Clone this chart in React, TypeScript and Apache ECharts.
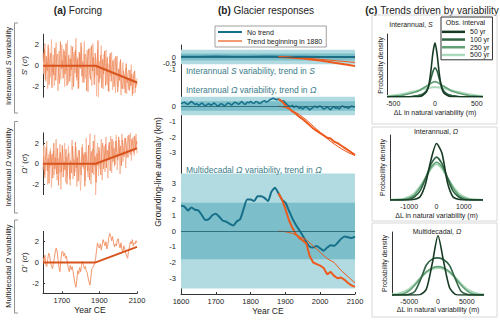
import React, { useEffect, useRef } from 'react';
import * as echarts from 'echarts';

const FONT = '"Liberation Sans", Arial, Helvetica, sans-serif';

// ---------- shared year grids ----------
const years5 = Array.from({ length: 101 }, (_, i) => 1600 + 5 * i);
const years5Offset = years5.map((y) => Math.min(y + 2.5, 2100));
const years10 = Array.from({ length: 51 }, (_, i) => 1600 + 10 * i);
const years50 = Array.from({ length: 11 }, (_, i) => 1600 + 50 * i);
const trendYears10 = Array.from({ length: 23 }, (_, i) => 1880 + 10 * i);
const trendYears20 = Array.from({ length: 12 }, (_, i) => 1880 + 20 * i);
const forcingTrendYears = [1600, 1880, 2100];
const smallTrendYears = [1880, 1900, 1950, 2000, 2050, 2100];

// ---------- (a) forcing ----------
const forcingSLight = [
  1.2, -0.8, 2.1, -1.5, 0.4, -2.2, 1.7, 0.3, -1.1, 2.5,
  -0.6, 1.0, -1.9, 0.7, 2.2, -0.9, -2.4, 1.4, 0.1, -1.3,
  2.0, -0.2, 1.6, -2.0, 0.9, -0.5, 2.4, -1.7, 0.6, -1.0,
  1.9, -2.3, 0.2, 1.3, -0.7, 2.6, -1.4, 0.8, -2.1, 1.1,
  -0.3, 1.8, -1.6, 0.5, 2.3, -1.2, -0.1, 1.5, -2.5, 0.9,
  1.7, -0.8, -1.9, 2.1, 0.3, -1.1,
  0.8, -2.9, 1.6, -3.0, 0.4, -1.2, 1.9, -0.9, -2.2, 1.1,
  -0.4, 1.5, -1.8, 0.2, -2.5, 0.9, -1.0, 1.3, -2.3, -0.1,
  0.7, -2.6, -0.6, 0.9, -2.0, -1.1, 0.4, -2.8, -0.9, 0.3,
  -2.2, -1.5, -0.2, -2.7, -1.0, -0.4, -2.4, -1.7, 0.1, -2.9,
  -1.3, -0.6, -2.6, -1.9, -1.2,
];
const forcingSDark = [
  0.4, 1.6, -1.3, 0.9, -0.5, 2.0, -1.8, 0.6, 1.2, -2.1,
  0.2, -0.9, 1.7, -1.4, 0.8, 1.1, -0.6, -1.7, 2.3, -0.3,
  0.5, -1.2, 1.4, -0.8, 2.1, -1.9, 0.0, 1.0, -1.5, 0.7,
  -0.4, 1.8, -2.0, 0.3, 1.5, -1.1, 0.6, -2.2, 1.3, -0.2,
  2.2, -1.0, 0.4, -1.6, 1.1, 0.9, -2.4, 0.5, 1.6, -0.7,
  -1.3, 1.9, -0.5, 0.8, -1.8, 1.2,
  0.2, -0.9, 2.4, -1.6, -0.3, 1.0, -2.1, 0.6, -0.8, 1.4,
  -1.9, -0.1, 0.8, -2.4, -0.6, 1.2, -1.5, -0.2, 0.5, -2.0,
  -1.1, 0.9, -0.7, -2.5, -0.3, -1.4, 0.6, -1.8, -2.2, -0.5,
  -1.0, -2.6, 0.2, -1.6, -1.2, -2.3, -0.4, -1.9, -0.8, -2.7,
  -1.1, -0.5, -2.1, -1.5, -1.8,
];
const forcingOmegaLight = [
  -0.6, 1.8, -1.4, 0.3, 2.2, -2.0, 0.9, -0.4, 1.5, -2.3,
  0.7, 1.2, -1.1, -0.2, 2.4, -1.6, 0.5, -0.9, 1.9, -2.5,
  0.1, 1.4, -0.7, 2.0, -1.8, 0.6, -1.2, 1.7, -0.3, -2.1,
  1.0, 2.3, -1.5, 0.4, -0.8, 1.6, -2.2, 0.8, 1.3, -1.0,
  -2.6, 0.2, 1.9, -0.5, 1.1, -1.7, 2.5, -0.4, -1.3, 0.7,
  2.9, -2.0, 0.3, 1.4, -1.1, 2.8,
  -3.1, 0.6, 2.0, -1.2, 1.3, -0.5, 2.4, -1.6, 0.9, 1.7,
  -0.8, 2.6, 0.1, -1.4, 1.8, 0.4, 2.7, -0.9, 1.1, 2.2,
  -0.3, 1.5, 2.8, -0.6, 0.9, 2.3, -1.0, 1.6, 2.9, 0.2,
  1.2, 2.5, -0.4, 1.9, 2.7, 0.6, 1.4, 3.0, 0.3, 2.1,
  2.6, 0.8, 1.7, 2.9, 1.0,
];
const forcingOmegaDark = [
  0.8, -1.1, 0.3, 1.6, -0.7, 0.5, -1.9, 1.2, -0.2, 0.9,
  -1.4, 2.0, -0.5, 0.6, -1.0, 1.5, -2.1, 0.4, 1.1, -0.8,
  1.8, -1.3, 0.2, -0.6, 1.4, -2.0, 0.7, 1.0, -1.5, 0.3,
  -0.9, 1.7, 0.1, -1.2, 2.1, -0.4, 0.6, -1.7, 1.3, 0.0,
  -1.1, 1.6, -0.3, 0.9, -2.2, 1.1, 0.4, -0.7, 1.8, -1.6,
  0.5, 1.2, -0.9, 2.2, -0.2, 0.7,
  -1.8, 1.0, -0.2, 1.6, 0.3, -1.1, 1.2, 2.0, -0.5, 0.8,
  1.9, -0.4, 1.3, 0.5, 2.1, -0.7, 1.0, 2.4, 0.2, 1.5,
  -0.1, 2.2, 1.1, 0.4, 2.6, 0.9, 1.7, -0.2, 2.3, 1.4,
  0.7, 2.5, 1.6, 0.6, 2.0, 2.8, 1.2, 0.9, 2.4, 1.8,
  1.1, 2.7, 1.5, 2.2, 1.9,
];
const forcingOmegaDecadal = [
  0.5, 0.1, 0.7, -0.2, -0.4, 0.3, 0.9, 0.7, 0.0, -0.3,
  -0.6, -0.2, 0.4, 1.0, 1.4, 1.1, 0.3, -0.5, -0.9, 0.2,
  1.0, 1.1, 0.6, 0.9, 0.4, 0.6, -0.1, -0.6, -0.9, -0.3,
  -0.7, -0.4, -0.9, -1.5, -2.0, -2.4, -1.7, -0.8, -1.1, -0.5,
  -0.9, -0.3, 0.1, -0.2, -0.6, -0.4, -0.8, -1.0, -1.5, -1.9,
  -2.2, -1.4, -0.6, -0.5, -0.3, -0.1, 0.4, 1.2, 1.9, 1.5,
  1.4, 1.8, 1.2, 1.7, 2.2, 1.9, 1.6, 2.0, 1.3, 1.7,
  2.4, 2.8, 2.6, 2.1, 2.5, 1.9, 1.5, 1.8, 1.6, 2.1,
  2.3, 1.7, 1.4, 1.9, 1.2, 1.0, 1.6, 1.3, 0.9, 0.6,
  0.4, 1.1, 1.5, 2.0, 1.8, 2.2, 1.6, 1.9, 1.8, 2.1,
  1.9,
];
const forcingTrendS = [0, 0, -1.6];
const forcingTrendOmega = [0, 0, 1.5];
const forcingTrendOmegaDecadal = [0, 0, 1.5];
const forcingTicks = [-2, 0, 2];
const forcingYearTicks = [1700, 1900, 2100];

// ---------- (b) glacier responses ----------
const respSNoTrend = [0.05, 0.04, 0.06, 0.05, 0.04, 0.06, 0.05, 0.04, 0.03, 0.03, 0.02];
const respSTrendThick = [0, -0.02, -0.12, -0.3, -0.52, -0.75];
const respSTrendThin = [0, -0.01, -0.07, -0.2, -0.32, -0.45];

const respOmegaNoTrend = [
  0.15, 0.2, 0.25, 0.15, 0.1, 0.2, 0.3, 0.2, 0.1, 0.15,
  0.05, 0.1, 0.2, 0.1, 0.0, 0.1, 0.15, 0.05, 0.1, 0.2,
  0.1, 0.0, 0.05, 0.15, 0.1, 0.0, 0.1, 0.2, 0.15, 0.05,
  0.15, 0.25, 0.2, 0.1, 0.2, 0.3, 0.15, 0.1, 0.25, 0.2,
  0.3, 0.2, 0.15, 0.3, 0.25, 0.15, 0.2, 0.3, 0.35, 0.25,
  0.3, 0.4, 0.45, 0.5, 0.45, 0.4, 0.45, 0.35, 0.3, 0.35,
  0.2, 0.1, 0.0, -0.05, 0.05, -0.1, 0.0, -0.05, -0.15, -0.1,
  -0.2, -0.1, -0.05, -0.15, -0.25, -0.15, -0.1, 0.0, -0.1, -0.05,
  0.0, -0.1, -0.2, -0.15, -0.05, -0.15, -0.25, -0.1, -0.05, -0.15,
  -0.1, -0.2, -0.05, 0.0, -0.1, -0.05, -0.15, -0.1, 0.0, -0.05,
  -0.05,
];
const respOmegaTrendThick = [
  0.45, 0.3, 0.05, -0.15, -0.35, -0.5, -0.7, -0.85, -1.05, -1.25, -1.45, -1.6,
  -1.75, -1.9, -2.05, -2.1, -2.3, -2.4, -2.55, -2.7, -2.85, -3.0, -3.15,
];
const respOmegaTrendThin = [0, -0.1, -0.3, -0.55, -0.9, -1.3, -1.7, -2.1, -2.45, -2.75, -3.0, -3.2];

const respDecadalNoTrend = [
  1.6, 1.55, 1.3, 1.5, 1.35, 1.3, 1.0, 0.7, 0.75, 1.0,
  1.1, 0.9, 0.65, 0.6, 0.45, 0.35, 0.6, 0.75, 1.4, 2.0,
  2.0, 1.9, 2.2, 2.2, 2.1, 1.9, 2.5, 2.75, 2.4, 2.0,
  1.8, 1.3, 0.8, 0.4, 0.05, -0.3, -0.7, -1.0, -1.05, -0.95,
  -1.1, -1.25, -1.05, -0.9, -0.95, -0.75, -0.5, -0.35, -0.4, -0.45,
  -0.35,
];
const respDecadalTrendThick = [
  2.4, 2.0, 1.4, 0.7, 0.2, -0.2, -0.45, -0.6, -0.8, -1.6, -2.0, -2.1,
  -2.2, -2.35, -2.75, -2.6, -2.85, -3.0, -2.95, -3.1, -3.3, -3.45, -3.55,
];
const respDecadalTrendThin = [0, -0.05, -0.15, -0.35, -0.55, -0.95, -1.35, -1.75, -2.0, -2.5, -2.9, -3.3];
const respSTicks = [-1, -0.5, 0];
const respOmegaTicks = [-3, -2, -1, 0];
const respDecadalTicks = [-3, -2, -1, 0, 1, 2, 3];

// ---------- (c) trend distributions ----------
const densityXS = [-575, -500, -400, -300, -250, -200, -150, -100, -75, -50, -25, 0, 25, 50, 75, 100, 150, 200, 250, 300, 400, 500, 575];
const densityS50 = [0, 0, 0, 0, 0, 0, 0.02, 0.08, 0.18, 0.4, 0.7, 0.86, 0.68, 0.38, 0.17, 0.07, 0.02, 0, 0, 0, 0, 0, 0];
const densityS100 = [0, 0, 0, 0, 0.01, 0.02, 0.04, 0.1, 0.17, 0.28, 0.4, 0.46, 0.41, 0.29, 0.18, 0.1, 0.04, 0.02, 0.01, 0, 0, 0, 0];
const densityS250 = [0, 0.01, 0.02, 0.05, 0.07, 0.09, 0.13, 0.17, 0.19, 0.21, 0.23, 0.24, 0.23, 0.21, 0.19, 0.17, 0.13, 0.09, 0.07, 0.05, 0.02, 0.01, 0];
const densityS500 = [0.01, 0.02, 0.04, 0.07, 0.085, 0.1, 0.12, 0.135, 0.14, 0.145, 0.15, 0.15, 0.15, 0.145, 0.14, 0.135, 0.12, 0.1, 0.085, 0.07, 0.04, 0.02, 0.01];

const densityXOmega = [-1700, -1400, -1200, -1000, -800, -600, -400, -200, 0, 200, 400, 600, 800, 1000, 1200, 1400, 1700];
const densityO50 = [0, 0, 0, 0, 0.01, 0.05, 0.25, 0.62, 0.87, 0.72, 0.27, 0.05, 0.01, 0, 0, 0, 0];
const densityO100 = [0, 0, 0, 0.01, 0.05, 0.14, 0.33, 0.55, 0.66, 0.56, 0.34, 0.14, 0.05, 0.01, 0, 0, 0];
const densityO250 = [0, 0, 0.01, 0.03, 0.08, 0.19, 0.34, 0.5, 0.58, 0.51, 0.35, 0.19, 0.08, 0.03, 0.01, 0, 0];
const densityO500 = [0, 0.01, 0.02, 0.05, 0.11, 0.21, 0.34, 0.48, 0.55, 0.48, 0.34, 0.21, 0.11, 0.05, 0.02, 0.01, 0];

const densityXDecadal = [-8000, -7000, -6000, -5000, -4000, -3000, -2000, -1000, 0, 1000, 2000, 3000, 4000, 5000, 6000, 7000, 8000];
const densityD50 = [0, 0, 0, 0, 0, 0.01, 0.1, 0.5, 0.94, 0.52, 0.12, 0.01, 0, 0, 0, 0, 0];
const densityD100 = [0, 0, 0, 0.01, 0.06, 0.25, 0.48, 0.57, 0.59, 0.56, 0.47, 0.26, 0.06, 0.01, 0, 0, 0];
const densityD250 = [0, 0.005, 0.02, 0.07, 0.16, 0.27, 0.37, 0.43, 0.45, 0.43, 0.37, 0.27, 0.16, 0.07, 0.02, 0.005, 0];
const densityD500 = [0.01, 0.02, 0.05, 0.1, 0.18, 0.28, 0.36, 0.41, 0.43, 0.41, 0.36, 0.28, 0.18, 0.1, 0.05, 0.02, 0.01];
const densityTicksS = [-500, 0, 500];
const densityTicksOmega = [-1000, 0, 1000];
const densityTicksDecadal = [-5000, 0, 5000];

const obsIntervals = ['50 yr', '100 yr', '250 yr', '500 yr'];
const obsColors = ['#163a24', '#2f6342', '#62a075', '#acd9bb'];

// ---------- helpers ----------
const pairs = (xs: number[], ys: number[]) => xs.map((x, i) => [x, ys[i]]);
const plain = (v: number) => String(v);
const onlyTicks = (vals: number[]) => (v: number) => (vals.some((t) => Math.abs(t - v) < 1e-6) ? String(Math.round(v * 100) / 100) : '');

const lineSeries = (name: string | undefined, gi: number, data: number[][], color: string, width: number, extra: any = {}) => ({
  type: 'line',
  name,
  xAxisIndex: gi,
  yAxisIndex: gi,
  data,
  symbol: 'none',
  showSymbol: false,
  silent: true,
  lineStyle: { color, width },
  itemStyle: { color },
  z: 3,
  ...extra,
});

const BAND_LIGHT = '#b2dbe1';
const BAND_DARK = '#7cbfca';
const TEAL = '#177089';
const ORANGE = '#ec5a1d';
const TEXT = '#222';

const bandSeries = (gi: number, outer: number, inner: number) => ({
  type: 'line',
  xAxisIndex: gi,
  yAxisIndex: gi,
  data: [[1600, 0], [2100, 0]],
  symbol: 'none',
  silent: true,
  lineStyle: { opacity: 0 },
  z: 1,
  markArea: {
    silent: true,
    data: [
      [{ yAxis: outer, itemStyle: { color: BAND_LIGHT } }, { yAxis: -outer }],
      [{ yAxis: inner, itemStyle: { color: BAND_DARK } }, { yAxis: -inner }],
    ],
  },
  markLine: {
    silent: true,
    symbol: 'none',
    label: { show: false },
    lineStyle: { color: '#1e5e6e', width: 0.8, type: 'solid' },
    data: [{ yAxis: 0 }],
  },
});

const rot = (x: number, y: number, text: string, size: number, rich: any = {}) => ({
  type: 'text',
  x,
  y,
  rotation: Math.PI / 2,
  style: { text, fontSize: size, fontFamily: FONT, fill: TEXT, align: 'center', verticalAlign: 'middle', rich },
});

const ITALIC = (size: number, fill = TEXT) => ({ i: { fontStyle: 'italic', fontSize: size, fontFamily: FONT, fill } });

export default function App() {
  const ref = useRef<HTMLDivElement>(null);

  useEffect(() => {
    if (!ref.current) return;
    const chart = echarts.init(ref.current, undefined, { renderer: 'svg' });

    const aYAxis = (gi: number, name: string) => ({
      gridIndex: gi,
      type: 'value',
      min: -3,
      max: 3,
      axisLine: { show: true, onZero: false, lineStyle: { color: '#333', width: 1 } },
      axisTick: { show: true, inside: true, length: 2, customValues: forcingTicks, lineStyle: { color: '#333' } },
      axisLabel: { customValues: forcingTicks, fontSize: 7.5, color: TEXT, margin: 4, fontFamily: FONT, formatter: plain },
      splitLine: { show: false },
      name,
      nameLocation: 'middle',
      nameGap: 11,
      nameTextStyle: { fontSize: 8, color: TEXT, fontFamily: FONT, rich: ITALIC(8) },
    });

    const bYAxis = (gi: number, min: number, max: number, interval: number, vals: number[]) => ({
      gridIndex: gi,
      type: 'value',
      min,
      max,
      interval,
      axisLine: { show: true, onZero: false, lineStyle: { color: '#333', width: 1 } },
      axisTick: { show: false },
      axisLabel: { fontSize: 7.5, color: TEXT, margin: 5, fontFamily: FONT, formatter: onlyTicks(vals), showMinLabel: true, showMaxLabel: true, hideOverlap: false },
      splitLine: { show: false },
    });

    const hiddenX = (gi: number) => ({
      gridIndex: gi,
      type: 'value',
      min: 1600,
      max: 2100,
      axisLine: { show: false, onZero: false },
      axisTick: { show: false },
      axisLabel: { show: false },
      splitLine: { show: false },
    });

    const cXAxis = (gi: number, lim: number, interval: number, vals: number[], gap: number) => ({
      gridIndex: gi,
      type: 'value',
      min: -lim,
      max: lim,
      interval,
      axisLine: { show: false, onZero: false },
      axisTick: { show: false },
      axisLabel: { fontSize: 7, color: TEXT, margin: 3, fontFamily: FONT, formatter: onlyTicks(vals), showMinLabel: true, showMaxLabel: true, hideOverlap: false },
      splitLine: { show: false },
      name: 'ΔL in natural variability (m)',
      nameLocation: 'middle',
      nameGap: gap,
      nameMoveOverlap: false,
      nameTextStyle: { fontSize: 7, color: TEXT, fontFamily: FONT },
    });
    const cYAxis = (gi: number, gap: number) => ({
      gridIndex: gi,
      type: 'value',
      min: 0,
      max: 1,
      axisLine: { show: true, onZero: false, lineStyle: { color: '#333', width: 1 } },
      axisTick: { show: false },
      axisLabel: { show: false },
      splitLine: { show: false },
      name: 'Probability density',
      nameLocation: 'middle',
      nameGap: gap,
      nameMoveOverlap: false,
      nameTextStyle: { fontSize: 7, color: TEXT, fontFamily: FONT },
    });

    const densitySeries = (gi: number, xs: number[], curves: number[][]) =>
      [3, 2, 1, 0].map((k) =>
        lineSeries(obsIntervals[k], gi, pairs(xs, curves[k]), obsColors[k], k === 3 ? 2 : 1.6, { smooth: 0.25 })
      );

    const option: any = {
      animation: false,
      textStyle: { fontFamily: FONT },
      grid: [
        { left: 43, top: 34.2, width: 94, height: 63 },
        { left: 43, top: 132.8, width: 94, height: 61.8 },
        { left: 43, top: 231.4, width: 94, height: 62 },
        { left: 181, top: 45, width: 174, height: 30 },
        { left: 181, top: 75, width: 174, height: 93 },
        { left: 181, top: 168, width: 174, height: 126 },
        { left: 387, top: 34, width: 96, height: 62.7 },
        { left: 390, top: 135, width: 93, height: 65 },
        { left: 392, top: 232, width: 92, height: 63 },
      ],
      xAxis: [
        hiddenX(0),
        hiddenX(1),
        {
          gridIndex: 2,
          type: 'value',
          min: 1600,
          max: 2100,
          axisLine: { show: true, onZero: false, lineStyle: { color: '#333', width: 1 } },
          axisTick: { show: true, inside: true, length: 2, customValues: forcingYearTicks, lineStyle: { color: '#333' } },
          axisLabel: { customValues: forcingYearTicks, fontSize: 7.5, color: TEXT, margin: 3, fontFamily: FONT, formatter: plain },
          splitLine: { show: false },
          name: 'Year CE',
          nameLocation: 'middle',
          nameGap: 11,
          nameTextStyle: { fontSize: 8.5, color: TEXT, fontFamily: FONT },
        },
        hiddenX(3),
        hiddenX(4),
        {
          gridIndex: 5,
          type: 'value',
          min: 1600,
          max: 2100,
          interval: 100,
          axisLine: { show: true, onZero: false, lineStyle: { color: '#333', width: 1 } },
          axisTick: { show: true, inside: true, length: 2, lineStyle: { color: '#333' } },
          axisLabel: { fontSize: 7.5, color: TEXT, margin: 3, fontFamily: FONT, formatter: plain, showMinLabel: true, showMaxLabel: true },
          splitLine: { show: false },
          name: 'Year CE',
          nameLocation: 'middle',
          nameGap: 12,
          nameTextStyle: { fontSize: 8.5, color: TEXT, fontFamily: FONT },
        },
        cXAxis(6, 575, 25, densityTicksS, 12),
        cXAxis(7, 1700, 100, densityTicksOmega, 12),
        cXAxis(8, 8000, 1000, densityTicksDecadal, 11),
      ],
      yAxis: [
        aYAxis(0, "{i|S}' ({i|σ})"),
        aYAxis(1, "{i|Ω}' ({i|σ})"),
        aYAxis(2, "{i|Ω}' ({i|σ})"),
        bYAxis(3, -1.5, 1, 0.5, respSTicks),
        bYAxis(4, -4, 2, 1, respOmegaTicks),
        bYAxis(5, -4, 4, 1, respDecadalTicks),
        cYAxis(6, 3),
        cYAxis(7, 4),
        cYAxis(8, 4),
      ],
      legend: [
        {
          data: [
            { name: 'No trend', itemStyle: { color: TEAL } },
            { name: 'Trend beginning in 1880', itemStyle: { color: '#f29a72' } },
          ],
          orient: 'vertical',
          left: 215,
          top: 26,
          icon: 'rect',
          itemWidth: 24,
          itemHeight: 2,
          itemGap: 1,
          selectedMode: false,
          backgroundColor: '#fff',
          borderColor: '#888',
          borderWidth: 0.8,
          padding: [2, 4, 2, 3],
          textStyle: { fontSize: 7, lineHeight: 8, color: TEXT, fontFamily: FONT },
        },
        {
          data: obsIntervals,
          orient: 'vertical',
          left: 441,
          top: 17,
          icon: 'rect',
          itemWidth: 23,
          itemHeight: 2.5,
          itemGap: 0,
          selectedMode: false,
          backgroundColor: '#fff',
          borderColor: '#333',
          borderWidth: 1,
          padding: [11, 3, 1, 1],
          textStyle: { fontSize: 7, lineHeight: 7.7, color: TEXT, fontFamily: FONT },
        },
      ],
      series: [
        // (a)
        lineSeries(undefined, 0, pairs(years5, forcingSLight), '#f7b99d', 1),
        lineSeries(undefined, 0, pairs(years5Offset, forcingSDark), '#ec7e4c', 0.8, { lineStyle: { color: '#ec7e4c', width: 0.8, opacity: 0.85 } }),
        lineSeries(undefined, 0, pairs(forcingTrendYears, forcingTrendS), '#d8531d', 2),
        lineSeries(undefined, 1, pairs(years5, forcingOmegaLight), '#f7b99d', 1),
        lineSeries(undefined, 1, pairs(years5Offset, forcingOmegaDark), '#ec7e4c', 0.8, { lineStyle: { color: '#ec7e4c', width: 0.8, opacity: 0.85 } }),
        lineSeries(undefined, 1, pairs(forcingTrendYears, forcingTrendOmega), '#d8531d', 2),
        lineSeries(undefined, 2, pairs(years5, forcingOmegaDecadal), '#f08b5c', 0.9),
        lineSeries(undefined, 2, pairs(forcingTrendYears, forcingTrendOmegaDecadal), '#d8531d', 2),
        // (b)
        bandSeries(3, 0.6, 0.3),
        lineSeries('No trend', 3, pairs(years50, respSNoTrend), TEAL, 1.5),
        lineSeries('Trend beginning in 1880', 3, pairs(smallTrendYears, respSTrendThin), ORANGE, 1),
        lineSeries('Trend beginning in 1880', 3, pairs(smallTrendYears, respSTrendThick), ORANGE, 2),
        bandSeries(4, 0.6, 0.3),
        lineSeries('No trend', 4, pairs(years5, respOmegaNoTrend), TEAL, 1.5),
        lineSeries('Trend beginning in 1880', 4, pairs(trendYears20, respOmegaTrendThin), ORANGE, 1),
        lineSeries('Trend beginning in 1880', 4, pairs(trendYears10, respOmegaTrendThick), ORANGE, 2),
        bandSeries(5, 3.65, 1.8),
        lineSeries('No trend', 5, pairs(years10, respDecadalNoTrend), TEAL, 2, { smooth: 0.2 }),
        lineSeries('Trend beginning in 1880', 5, pairs(trendYears20, respDecadalTrendThin), ORANGE, 1),
        lineSeries('Trend beginning in 1880', 5, pairs(trendYears10, respDecadalTrendThick), ORANGE, 2),
        // (c)
        ...densitySeries(6, densityXS, [densityS50, densityS100, densityS250, densityS500]),
        ...densitySeries(7, densityXOmega, [densityO50, densityO100, densityO250, densityO500]),
        ...densitySeries(8, densityXDecadal, [densityD50, densityD100, densityD250, densityD500]),
      ],
      graphic: [
        // titles
        {
          type: 'text', x: 78, y: 10,
          style: { text: '{b|(a)} Forcing', fontSize: 10, fontFamily: FONT, fill: TEXT, align: 'center', verticalAlign: 'middle', rich: { b: { fontWeight: 'bold', fontSize: 10, fontFamily: FONT, fill: TEXT } } },
        },
        {
          type: 'text', x: 266, y: 10,
          style: { text: '{b|(b)} Glacier responses', fontSize: 10, fontFamily: FONT, fill: TEXT, align: 'center', verticalAlign: 'middle', rich: { b: { fontWeight: 'bold', fontSize: 10, fontFamily: FONT, fill: TEXT } } },
        },
        {
          type: 'text', x: 432, y: 10,
          style: { text: '{b|(c)} Trends driven by variability', fontSize: 10, fontFamily: FONT, fill: TEXT, align: 'center', verticalAlign: 'middle', rich: { b: { fontWeight: 'bold', fontSize: 10, fontFamily: FONT, fill: TEXT } } },
        },
        // (a) brackets
        { type: 'polyline', shape: { points: [[18, 23], [14.5, 23], [14.5, 113], [18, 113]] }, style: { stroke: '#777', lineWidth: 0.8, fill: 'none' } },
        { type: 'polyline', shape: { points: [[18, 121.5], [14.5, 121.5], [14.5, 213], [18, 213]] }, style: { stroke: '#777', lineWidth: 0.8, fill: 'none' } },
        { type: 'polyline', shape: { points: [[18, 220], [14.5, 220], [14.5, 313], [18, 313]] }, style: { stroke: '#777', lineWidth: 0.8, fill: 'none' } },
        rot(8.5, 66, 'Interannual {i|S} variability', 7.5, ITALIC(7.5)),
        rot(8.5, 167, 'Interannual {i|Ω} variability', 7.5, ITALIC(7.5)),
        rot(8.5, 266, 'Multidecadal {i|Ω} variability', 7.5, ITALIC(7.5)),
        // (b) labels
        {
          type: 'text', x: 186, y: 71, z: 10,
          style: { text: 'Interannual {i|S} variability, trend in {i|S}', fontSize: 8.5, fontFamily: FONT, fill: '#3a7c89', verticalAlign: 'middle', rich: ITALIC(8.5, '#3a7c89') },
        },
        {
          type: 'text', x: 186, y: 90, z: 10,
          style: { text: 'Interannual {i|Ω} variability, trend in {i|Ω}', fontSize: 8.5, fontFamily: FONT, fill: '#3a7c89', verticalAlign: 'middle', rich: ITALIC(8.5, '#3a7c89') },
        },
        {
          type: 'text', x: 186, y: 170, z: 10,
          style: { text: 'Multidecadal {i|Ω} variability, trend in {i|Ω}', fontSize: 8.5, fontFamily: FONT, fill: '#3a7c89', verticalAlign: 'middle', rich: ITALIC(8.5, '#3a7c89') },
        },
        rot(157.5, 172, 'Grounding-line anomaly (km)', 8.5),
        // (c) boxes
        { type: 'rect', shape: { x: 372, y: 15, width: 125, height: 109 }, style: { stroke: '#d8d8d8', lineWidth: 1, fill: 'none' } },
        { type: 'rect', shape: { x: 372, y: 127, width: 125, height: 94 }, style: { stroke: '#d8d8d8', lineWidth: 1, fill: 'none' } },
        { type: 'rect', shape: { x: 372, y: 223, width: 125, height: 94 }, style: { stroke: '#d8d8d8', lineWidth: 1, fill: 'none' } },
        {
          type: 'text', x: 411, y: 24.5,
          style: { text: 'Interannual, {i|S}', fontSize: 7, fontFamily: FONT, fill: TEXT, align: 'center', verticalAlign: 'middle', rich: ITALIC(7) },
        },
        {
          type: 'text', x: 436, y: 131.5,
          style: { text: 'Interannual, {i|Ω}', fontSize: 7, fontFamily: FONT, fill: TEXT, align: 'center', verticalAlign: 'middle', rich: ITALIC(7) },
        },
        {
          type: 'text', x: 437, y: 231.5,
          style: { text: 'Multidecadal, {i|Ω}', fontSize: 7, fontFamily: FONT, fill: TEXT, align: 'center', verticalAlign: 'middle', rich: ITALIC(7) },
        },
        {
          type: 'text', x: 465.5, y: 22, z: 100,
          style: { text: 'Obs. interval', fontSize: 7, fontFamily: FONT, fill: TEXT, align: 'center', verticalAlign: 'middle' },
        },
      ],
    };

    chart.setOption(option);
    return () => chart.dispose();
  }, []);

  return <div ref={ref} style={{ position: 'fixed', left: 0, top: 0, width: 500, height: 323, background: '#fff' }} />;
}
